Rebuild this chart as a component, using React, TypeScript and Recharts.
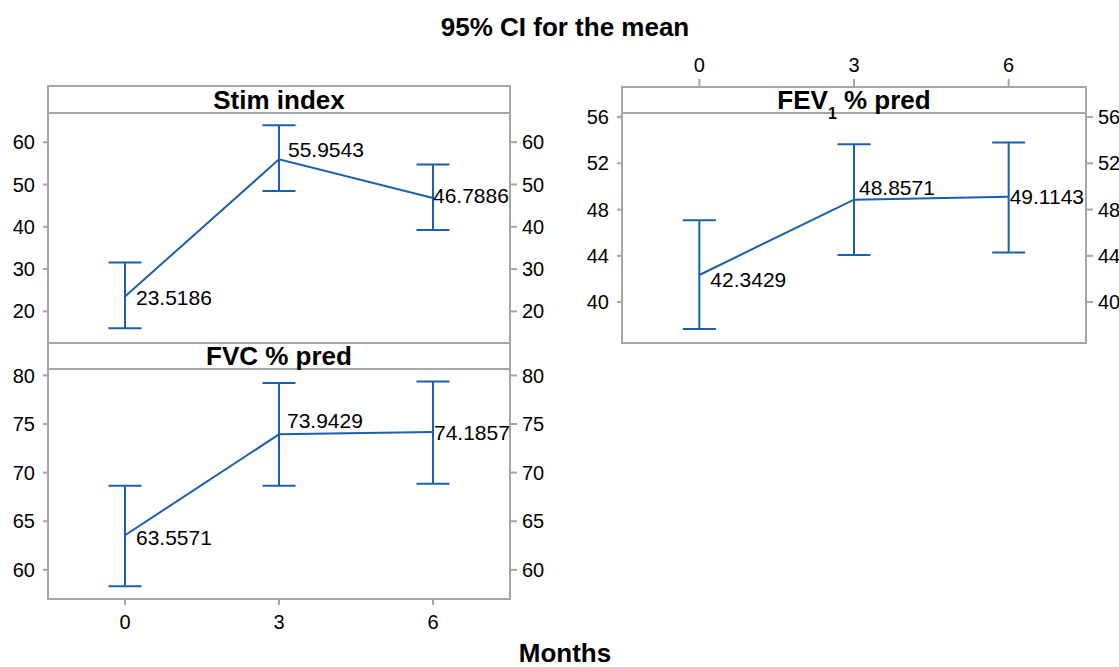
import React from 'react';
import { ComposedChart, Line, XAxis, YAxis, ErrorBar, LabelList } from 'recharts';

const months = [0, 3, 6];
const monthTicks = [0, 3, 6];

const stimMean = [23.5186, 55.9543, 46.7886];
const stimLower = [16.03, 48.49, 39.27];
const stimUpper = [31.54, 64.02, 54.7];
const stimTicks = [20, 30, 40, 50, 60];

const fvcMean = [63.5571, 73.9429, 74.1857];
const fvcLower = [58.32, 68.64, 68.85];
const fvcUpper = [68.64, 79.21, 79.38];
const fvcTicks = [60, 65, 70, 75, 80];

const fevMean = [42.3429, 48.8571, 49.1143];
const fevLower = [37.67, 44.06, 44.29];
const fevUpper = [47.08, 53.64, 53.81];
const fevTicks = [40, 44, 48, 52, 56];

const FONT = '"Liberation Sans", Arial, Helvetica, sans-serif';
const BLUE = '#1b5fb0';
const GRAY = '#a6a6a6';
const AXW = 70;
const XH = 30;
const MT = 30;
const MB = 30;

type Props = {
  plotLeft: number;
  plotTop: number;
  plotW: number;
  plotH: number;
  yDomain: [number, number];
  yTicks: number[];
  mean: number[];
  lower: number[];
  upper: number[];
  labelOffsets: [number, number][];
  xAxis: 'none' | 'top' | 'bottom';
};

function Panel(p: Props) {
  const data = months.map((m, i) => ({
    month: m,
    mean: p.mean[i],
    err: [p.mean[i] - p.lower[i], p.upper[i] - p.mean[i]],
  }));
  const hasTop = p.xAxis === 'top';
  const hasBottom = p.xAxis === 'bottom';
  const w = p.plotW + 2 * AXW;
  const h = MT + MB + p.plotH + (hasTop || hasBottom ? XH : 0);
  const left = p.plotLeft - AXW;
  const top = p.plotTop - MT - (hasTop ? XH : 0);

  const renderLabel = (props: any) => {
    const { x, y, value, index } = props;
    const off = p.labelOffsets[index] || [0, 0];
    return (
      <text
        x={Number(x) + off[0]}
        y={Number(y) + off[1]}
        fontSize={21}
        fontFamily={FONT}
        fill="#000"
        dominantBaseline="central"
      >
        {Number(value).toFixed(4)}
      </text>
    );
  };

  return (
    <div style={{ position: 'absolute', left, top, width: w, height: h }}>
      <ComposedChart
        width={w}
        height={h}
        data={data}
        margin={{ top: MT, bottom: MB, left: 0, right: 0 }}
        style={{ overflow: 'visible' }}
      >
        <XAxis
          dataKey="month"
          type="number"
          domain={[-1.5, 7.5]}
          ticks={monthTicks}
          allowDataOverflow
          hide={p.xAxis === 'none'}
          orientation={hasTop ? 'top' : 'bottom'}
          height={XH}
          axisLine={false}
          tickLine={{ stroke: GRAY, strokeWidth: 2 }}
          tickSize={hasTop ? 8 : 6}
          tickMargin={hasTop ? 7 : 10}
          tick={{ fontSize: 20, fill: '#000', fontFamily: FONT }}
        />
        <YAxis
          yAxisId="l"
          type="number"
          domain={p.yDomain}
          ticks={p.yTicks}
          allowDataOverflow
          width={AXW}
          axisLine={false}
          tickLine={{ stroke: GRAY, strokeWidth: 2 }}
          tickSize={5}
          tickMargin={8}
          tick={{ fontSize: 20, fill: '#000', fontFamily: FONT }}
        />
        <YAxis
          yAxisId="r"
          orientation="right"
          type="number"
          domain={p.yDomain}
          ticks={p.yTicks}
          allowDataOverflow
          width={AXW}
          axisLine={false}
          tickLine={{ stroke: GRAY, strokeWidth: 2 }}
          tickSize={7}
          tickMargin={5}
          tick={{ fontSize: 20, fill: '#000', fontFamily: FONT }}
        />
        <Line
          yAxisId="l"
          dataKey="mean"
          stroke={BLUE}
          strokeWidth={2}
          dot={false}
          activeDot={false}
          isAnimationActive={false}
        >
          <ErrorBar
            dataKey="err"
            direction="y"
            width={16.5}
            stroke={BLUE}
            strokeWidth={2}
            isAnimationActive={false}
          />
          <LabelList dataKey="mean" content={renderLabel} />
        </Line>
      </ComposedChart>
    </div>
  );
}

const boxStyle = (l: number, t: number, r: number, b: number): React.CSSProperties => ({
  position: 'absolute',
  left: l - 1,
  top: t - 1,
  width: r - l + 2,
  height: b - t + 2,
  border: `2px solid ${GRAY}`,
  boxSizing: 'border-box',
  pointerEvents: 'none',
});

const headerText: React.CSSProperties = {
  display: 'flex',
  alignItems: 'center',
  justifyContent: 'center',
  fontFamily: FONT,
  fontWeight: 'bold',
  fontSize: 26,
  lineHeight: 1,
  color: '#000',
  whiteSpace: 'nowrap',
};

export default function App() {
  return (
    <div
      style={{
        position: 'absolute',
        left: 0,
        top: 0,
        width: 1119,
        height: 667,
        background: '#fff',
        overflow: 'hidden',
        fontFamily: FONT,
      }}
    >
      <div
        style={{
          position: 'absolute',
          left: 315,
          width: 500,
          top: 11,
          height: 32,
          ...headerText,
          fontSize: 26,
        }}
      >
        95% CI for the mean
      </div>

      {/* Stim index */}
      <Panel
        plotLeft={48}
        plotTop={113}
        plotW={462}
        plotH={230}
        yDomain={[12.53, 66.9]}
        yTicks={stimTicks}
        mean={stimMean}
        lower={stimLower}
        upper={stimUpper}
        labelOffsets={[[11, 1], [9, -10], [0, -3]]}
        xAxis="none"
      />
      <div style={{ ...boxStyle(48, 113, 510, 343) }} />
      <div style={{ ...boxStyle(48, 86, 510, 113), ...headerText }}>Stim index</div>

      {/* FVC % pred */}
      <Panel
        plotLeft={48}
        plotTop={369}
        plotW={462}
        plotH={230}
        yDomain={[57.0, 80.66]}
        yTicks={fvcTicks}
        mean={fvcMean}
        lower={fvcLower}
        upper={fvcUpper}
        labelOffsets={[[11, 2], [8, -14], [1, 1]]}
        xAxis="bottom"
      />
      <div style={{ ...boxStyle(48, 369, 510, 599) }} />
      <div style={{ ...boxStyle(48, 343, 510, 369), ...headerText }}>FVC % pred</div>

      {/* FEV1 % pred */}
      <Panel
        plotLeft={622}
        plotTop={87}
        plotW={464}
        plotH={256}
        yDomain={[36.46, 58.6]}
        yTicks={fevTicks}
        mean={fevMean}
        lower={fevLower}
        upper={fevUpper}
        labelOffsets={[[11, 5], [5, -12], [1, 0]]}
        xAxis="top"
      />
      <div style={{ ...boxStyle(622, 113, 1086, 343) }} />
      <div style={{ ...boxStyle(622, 87, 1086, 113), ...headerText, overflow: 'visible' }}>
        <span>
          FEV
          <span style={{ fontSize: 16, position: 'relative', top: 10 }}>1</span>
          {' % pred'}
        </span>
      </div>

      <div
        style={{
          position: 'absolute',
          left: 315,
          width: 500,
          top: 640,
          height: 26,
          ...headerText,
          fontSize: 26,
        }}
      >
        Months
      </div>
    </div>
  );
}
